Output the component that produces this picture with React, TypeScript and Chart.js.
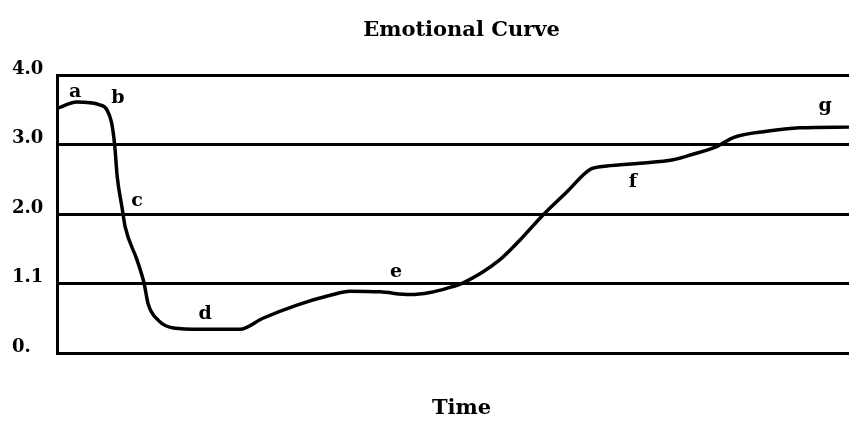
import React, { useEffect, useRef } from "react";
import { Chart, registerables } from "chart.js";

Chart.register(...registerables);

const titleText = "Emotional Curve";
const xAxisTitle = "Time";

// time (0..100 across the visible plot) and emotional level
const timePoints = [0, 2.5, 5.4, 6.3, 6.9, 7.3, 7.6, 8.2, 8.6, 10.1, 11.0, 11.5, 12.8, 14.7, 18.1, 23.1, 26.0, 30.3, 34.5, 37.0, 40.8, 44.6, 47.1, 49.2, 51.3, 55.9, 58.5, 61.4, 64.4, 67.3, 69.4, 73.6, 77.8, 80.3, 83.3, 85.4, 89.6, 93.8, 100];
const emotionValues = [3.52, 3.61, 3.57, 3.5, 3.31, 2.97, 2.54, 2.1, 1.82, 1.34, 1.0, 0.71, 0.47, 0.36, 0.34, 0.34, 0.5, 0.69, 0.83, 0.89, 0.88, 0.84, 0.87, 0.93, 1.01, 1.34, 1.63, 1.99, 2.32, 2.64, 2.69, 2.73, 2.78, 2.86, 2.97, 3.1, 3.19, 3.24, 3.25];

const yTickLabels = ["0.", "1.1", "2.0", "3.0", "4.0"];

const markerLetters = ["a", "b", "c", "d", "e", "f", "g"];
const markerTimes = [2.3, 7.7, 10.1, 18.7, 42.8, 72.7, 97];
const markerValues = [3.76, 3.67, 2.19, 0.56, 1.17, 2.46, 3.55];

const FONT = "'DejaVu Serif', 'Liberation Serif', serif";

const letterPlugin = {
  id: "letters",
  afterDatasetsDraw(chart: any) {
    const { ctx, scales } = chart;
    ctx.save();
    ctx.fillStyle = "#000";
    ctx.font = `bold 19px ${FONT}`;
    ctx.textAlign = "center";
    ctx.textBaseline = "middle";
    markerLetters.forEach((l, i) => {
      ctx.fillText(l, scales.x.getPixelForValue(markerTimes[i]), scales.y.getPixelForValue(markerValues[i]));
    });
    ctx.restore();
  },
};

export default function App() {
  const ref = useRef<HTMLCanvasElement>(null);
  useEffect(() => {
    if (!ref.current) return;
    const chart = new Chart(ref.current, {
      type: "line",
      data: {
        datasets: [
          {
            data: timePoints.map((t, i) => ({ x: t, y: emotionValues[i] })),
            borderColor: "#000",
            borderWidth: 3.5,
            pointRadius: 0,
            cubicInterpolationMode: "monotone",
            fill: false,
          },
        ],
      },
      options: {
        animation: false,
        responsive: false,
        layout: { padding: { left: 12, right: 0, top: 0, bottom: 0 } },
        plugins: {
          legend: { display: false },
          tooltip: { enabled: false },
          title: {
            display: true,
            text: titleText,
            fullSize: false,
            color: "#000",
            font: { family: FONT, size: 21, weight: "bold" },
            padding: { top: 17.5, bottom: 32.3 },
          },
        },
        scales: {
          x: {
            type: "linear",
            min: 0,
            max: 102.15,
            grid: { display: false },
            border: { display: false },
            ticks: { display: false },
            title: {
              display: true,
              text: xAxisTitle,
              color: "#000",
              font: { family: FONT, size: 21, weight: "bold" },
              padding: { top: 0, bottom: 0 },
            },
            afterFit: (s: any) => {
              s.height = 68;
            },
          },
          y: {
            min: 0,
            max: 4,
            grid: { color: "#000", lineWidth: 3, drawTicks: false },
            border: { display: true, color: "#000", width: 3 },
            ticks: {
              stepSize: 1,
              color: "#000",
              crossAlign: "far",
              labelOffset: -6,
              padding: 0,
              font: { family: FONT, size: 18, weight: "bold" },
              callback: (v: any) => yTickLabels[Math.round(Number(v))] ?? "",
            },
            afterFit: (s: any) => {
              s.width = 45;
            },
          },
        },
      },
      plugins: [letterPlugin],
    } as any);
    return () => chart.destroy();
  }, []);
  return (
    <div style={{ position: "fixed", left: 0, top: 0, width: 849, height: 421, overflow: "hidden", background: "#fff" }}>
      <canvas ref={ref} width={866} height={421} style={{ display: "block", width: 866, height: 421 }} />
    </div>
  );
}
